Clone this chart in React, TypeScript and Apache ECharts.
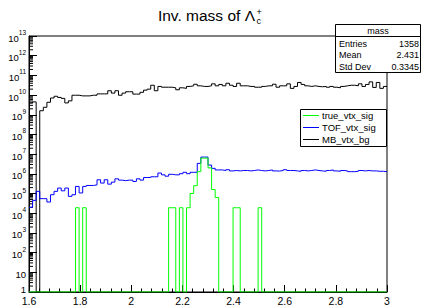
import React, { useEffect, useRef } from "react";
import * as echarts from "echarts";

// ---- data ----
const X_MIN = 1.6;
const X_MAX = 3.0;
const xTickLabels = ["1.6", "1.8", "2", "2.2", "2.4", "2.6", "2.8", "3"];
const yDecades = [0, 1, 2, 3, 4, 5, 6, 7, 8, 9, 10, 11, 12, 13];

// MB_vtx_bg (black), 100 bins
const mbValues = [
  4.0e9, 4.5e9, 0, 1.6e9, 2.4e9, 4.3e9, 7.1e9, 8.7e9, 7.6e9, 6.8e9,
  4.0e9, 5.1e9, 9.8e9, 9.8e9, 9.1e9, 9.1e9, 9.1e9, 9.8e9, 9.8e9, 1.15e10,
  1.15e10, 1.15e10, 1.66e10, 1.26e10, 1.66e10, 9.8e9, 1.26e10, 1.48e10, 1.48e10, 1.12e10,
  1.12e10, 1.38e10, 1.78e10, 2.0e10, 3.16e10, 1.66e10, 2.75e10, 2.51e10, 2.51e10, 2.51e10,
  2.34e10, 1.86e10, 2.34e10, 2.19e10, 2.75e10, 2.95e10, 3.55e10, 2.95e10, 2.75e10, 2.75e10,
  2.95e10, 3.72e10, 2.95e10, 3.47e10, 2.95e10, 3.98e10, 3.16e10, 2.75e10, 3.98e10, 2.95e10,
  2.95e10, 2.75e10, 2.75e10, 2.51e10, 2.51e10, 2.75e10, 2.95e10, 2.95e10, 3.55e10, 2.51e10,
  2.95e10, 2.95e10, 3.72e10, 2.19e10, 2.75e10, 4.37e10, 3.47e10, 2.95e10, 2.75e10, 2.95e10,
  2.75e10, 2.63e10, 2.75e10, 2.51e10, 2.75e10, 2.51e10, 2.34e10, 2.75e10, 2.95e10, 3.16e10,
  3.16e10, 2.95e10, 3.72e10, 2.75e10, 3.47e10, 4.68e10, 2.45e10, 4.37e10, 2.19e10, 2.75e10,
];

// TOF_vtx_sig (blue), 100 bins
const tofValues = [
  2.0e4, 4.5e4, 1.29e5, 5.5e4, 5.5e4, 3.7e4, 8.7e4, 1.29e5, 1.9e5, 1.38e5,
  1.9e5, 7.2e4, 8.7e4, 2.3e5, 1.07e5, 2.3e5, 2.57e5, 2.57e5, 2.75e5, 5.0e5,
  3.4e5, 5.0e5, 3.0e5, 3.8e5, 5.6e5, 4.8e5, 4.5e5, 4.8e5, 4.8e5, 4.1e5,
  5.6e5, 4.8e5, 6.5e5, 6.5e5, 7.1e5, 7.1e5, 1.1e6, 8.9e5, 7.6e5, 9.5e5,
  8.9e5, 8.9e5, 1.02e6, 1.2e6, 1.02e6, 1.2e6, 1.2e6, 3.4e6, 7.1e6, 7.1e6,
  2.8e6, 1.9e6, 1.58e6, 1.58e6, 1.48e6, 1.62e6, 1.41e6, 1.48e6, 1.41e6, 1.48e6,
  1.48e6, 1.41e6, 1.48e6, 1.58e6, 1.48e6, 1.41e6, 1.48e6, 1.58e6, 1.41e6, 1.38e6,
  1.48e6, 1.62e6, 1.48e6, 1.48e6, 1.41e6, 1.35e6, 1.48e6, 1.41e6, 1.48e6, 1.58e6,
  1.48e6, 1.41e6, 1.35e6, 1.48e6, 1.58e6, 1.41e6, 1.35e6, 1.48e6, 1.41e6, 1.29e6,
  1.29e6, 1.35e6, 1.48e6, 1.41e6, 1.48e6, 1.41e6, 1.41e6, 1.35e6, 1.35e6, 1.29e6,
];

// true_vtx_sig (green), 100 bins
const trueValues = [
  0, 0, 0, 0, 0, 0, 0, 0, 0, 0,
  0, 0, 0, 1.9e4, 0, 1.9e4, 0, 0, 0, 0,
  0, 0, 0, 0, 0, 0, 0, 0, 0, 0,
  0, 0, 0, 0, 0, 0, 0, 0, 0, 1.9e4,
  1.9e4, 0, 1.9e4, 0, 1.9e4, 1.0e5, 2.5e5, 1.29e6, 6.3e6, 6.3e6,
  2.0e6, 1.6e5, 6.3e4, 0, 0, 0, 0, 1.9e4, 1.9e4, 0,
  0, 0, 0, 0, 1.9e4, 0, 0, 0, 0, 0,
  0, 0, 0, 0, 0, 0, 0, 0, 0, 0,
  0, 0, 0, 0, 0, 0, 0, 0, 0, 0,
  0, 0, 0, 0, 0, 0, 0, 0, 0, 0,
];

const seriesNames = ["true_vtx_sig", "TOF_vtx_sig", "MB_vtx_bg"];
const seriesColors = ["#00ff00", "#0000ff", "#000000"];

const statsTitle = "mass";
const statsLabels = ["Entries", "Mean", "Std Dev"];
const statsValues = ["1358", "2.431", "0.3345"];

const FONT = "Liberation Sans, Arial, Helvetica, sans-serif";

function stepData(vals: number[]) {
  const n = vals.length;
  const w = (X_MAX - X_MIN) / n;
  const pts: number[][] = vals.map((v, i) => [X_MIN + i * w, Math.max(v, 1)]);
  pts.push([X_MAX, Math.max(vals[n - 1], 1)]);
  return pts;
}

function minorTickData() {
  const out: number[][] = [];
  for (let i = 0; i < yDecades.length - 1; i++) {
    for (let m = 2; m <= 9; m++) out.push([X_MIN, m * Math.pow(10, yDecades[i])]);
  }
  return out;
}

export default function App() {
  const ref = useRef<HTMLDivElement>(null);
  useEffect(() => {
    if (!ref.current) return;
    const chart = echarts.init(ref.current, undefined, { renderer: "svg" });

    const histSeries = [2, 1, 0].map((k) => ({
      name: seriesNames[k],
      type: "line",
      step: "end",
      showSymbol: false,
      symbol: "none",
      clip: true,
      lineStyle: { color: seriesColors[k], width: 1 },
      itemStyle: { color: seriesColors[k] },
      data: stepData(k === 0 ? trueValues : k === 1 ? tofValues : mbValues),
      z: 3,
    }));

    const legendRows = seriesNames.map((name, i) => {
      const y = 115.5 + i * 12;
      return [
        {
          type: "line",
          shape: { x1: 303, y1: y, x2: 319, y2: y },
          style: { stroke: seriesColors[i], lineWidth: 1 },
        },
        {
          type: "text",
          x: 322,
          y: y,
          style: {
            text: name,
            fontSize: 9.5,
            fontFamily: FONT,
            fill: "#000",
            verticalAlign: "middle",
            align: "left",
          },
        },
      ];
    }).flat();

    const statsRows = statsLabels.map((lab, i) => {
      const y = 43.5 + i * 11.5;
      return [
        {
          type: "text",
          x: 339,
          y,
          style: { text: lab, fontSize: 9, fontFamily: FONT, fill: "#000", verticalAlign: "middle", align: "left" },
        },
        {
          type: "text",
          x: 419,
          y,
          style: { text: statsValues[i], fontSize: 9, fontFamily: FONT, fill: "#000", verticalAlign: "middle", align: "right" },
        },
      ];
    }).flat();

    chart.setOption({
      animation: false,
      backgroundColor: "#fff",
      textStyle: { fontFamily: FONT },
      grid: {
        left: 29,
        right: 34,
        top: 36,
        bottom: 11,
        show: true,
        borderColor: "#000",
        borderWidth: 1,
        backgroundColor: "transparent",
      },
      xAxis: {
        type: "value",
        min: X_MIN,
        max: X_MAX,
        interval: 0.2,
        axisLine: { show: true, lineStyle: { color: "#000", width: 1 } },
        axisTick: { show: true, inside: true, length: 7, lineStyle: { color: "#000" } },
        minorTick: { show: true, splitNumber: 5, length: 3.5, lineStyle: { color: "#000" } },
        splitLine: { show: false },
        minorSplitLine: { show: false },
        axisLabel: {
          show: true,
          margin: 3,
          fontSize: 10.5,
          color: "#000",
          fontFamily: FONT,
          showMinLabel: true,
          showMaxLabel: true,
          formatter: (v: number) => {
            const idx = Math.round((v - X_MIN) / 0.2);
            return xTickLabels[idx] ?? "";
          },
        },
      },
      yAxis: {
        type: "log",
        logBase: 10,
        min: 1,
        max: 1e13,
        interval: 1,
        splitNumber: 13,
        axisLine: { show: true, lineStyle: { color: "#000", width: 1 } },
        axisTick: { show: true, inside: true, length: 8, lineStyle: { color: "#000" } },
        splitLine: { show: false },
        axisLabel: {
          show: true,
          margin: 3,
          color: "#000",
          fontFamily: FONT,
          showMinLabel: true,
          showMaxLabel: true,
          formatter: (v: number) => {
            const e = Math.round(Math.log10(v));
            if (e === 0) return "{one|1}";
            if (e === 1) return "{b|10}";
            return "{b|10}{s|" + e + "}";
          },
          rich: {
            one: { fontSize: 9.5, fontFamily: FONT, color: "#000", lineHeight: 14, padding: [0, 0, 5, 0] },
            b: { fontSize: 9.5, fontFamily: FONT, color: "#000", lineHeight: 14, verticalAlign: "bottom" },
            s: { fontSize: 6.5, fontFamily: FONT, color: "#000", lineHeight: 14, verticalAlign: "top", padding: [0, 0, 6, 0] },
          },
        },
      },
      series: [
        ...histSeries,
        {
          type: "custom",
          silent: true,
          z: 2,
          renderItem: (params: any, api: any) => {
            const p = api.coord([api.value(0), api.value(1)]);
            return {
              type: "line",
              shape: { x1: p[0], y1: p[1], x2: p[0] + 4, y2: p[1] },
              style: { stroke: "#000", lineWidth: 1 },
            };
          },
          data: minorTickData(),
        },
      ],
      graphic: [
        // title
        {
          type: "text",
          x: 255,
          y: 15.5,
          style: {
            text: "Inv. mass of Λ",
            fontSize: 15.5,
            fontFamily: FONT,
            fill: "#000",
            align: "right",
            verticalAlign: "middle",
          },
        },
        {
          type: "text",
          x: 256.5,
          y: 12,
          style: { text: "+", fontSize: 9, fontFamily: FONT, fill: "#000", align: "left", verticalAlign: "middle" },
        },
        {
          type: "text",
          x: 256.5,
          y: 20.5,
          style: { text: "c", fontSize: 9, fontFamily: FONT, fill: "#000", align: "left", verticalAlign: "middle" },
        },
        // stats box
        {
          type: "rect",
          shape: { x: 335.5, y: 24.5, width: 85, height: 48 },
          style: { fill: "#fff", stroke: "#000", lineWidth: 1 },
          z: 10,
        },
        {
          type: "line",
          shape: { x1: 335.5, y1: 36.5, x2: 420.5, y2: 36.5 },
          style: { stroke: "#000", lineWidth: 1 },
          z: 11,
        },
        {
          type: "text",
          x: 378,
          y: 30.5,
          z: 11,
          style: { text: statsTitle, fontSize: 9, fontFamily: FONT, fill: "#000", align: "center", verticalAlign: "middle" },
        },
        ...statsRows.map((r) => ({ ...r, z: 11 })),
        // legend box
        {
          type: "rect",
          shape: { x: 300.5, y: 109.5, width: 86, height: 37 },
          style: { fill: "#fff", stroke: "#000", lineWidth: 1 },
          z: 10,
        },
        ...legendRows.map((r) => ({ ...r, z: 11 })),
      ],
    });
    return () => chart.dispose();
  }, []);
  return (
    <div
      ref={ref}
      style={{ position: "fixed", left: 0, top: 0, width: 421, height: 306 }}
    />
  );
}
